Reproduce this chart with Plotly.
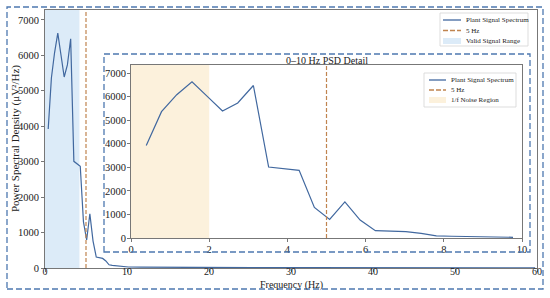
import plotly.graph_objects as go

# ---------------- data ----------------
freq_hz = [0.39, 0.78, 1.17, 1.56, 1.95, 2.34, 2.73, 3.13, 3.52, 3.91, 4.30, 4.69,
           5.08, 5.47, 5.86, 6.25, 6.64, 7.03, 7.42, 7.81, 8.20, 8.59, 8.98, 9.38,
           9.77, 10.16, 11.72, 13.67, 15.63, 19.53, 25.39, 31.25, 39.06, 46.88,
           54.69, 59.77]
psd_uv2_hz = [3920, 5360, 6080, 6630, 6010, 5390, 5730, 6470, 3010, 2940, 2870, 1300,
              790, 1530, 760, 310, 290, 270, 200, 90, 75, 65, 50, 40,
              30, 28, 22, 18, 15, 12, 10, 8, 6, 5,
              4, 3]
marker_freq = 5
valid_range = [0, 4.2]
noise_range = [0, 2]
main_x_ticks = [0, 10, 20, 30, 40, 50, 60]
inset_x_ticks = [0, 2, 4, 6, 8, 10]
y_ticks = [0, 1000, 2000, 3000, 4000, 5000, 6000, 7000]
inset_limit = 10

# ---------------- style ----------------
FONT = "Liberation Serif"
LINE_C = "#41689f"
MARK_C = "#c0844f"
VALID_C = "#dcebf8"
NOISE_C = "#fcf1dc"
BOX_C = "#4d78b0"
AX_C = "#777777"
TXT_C = "#222222"

W, H = 550, 298
L, R, T, B = 45, 13, 10, 30
PW, PH = W - L - R, H - T - B


def px(p):
    return (p - L) / PW


def py(p):
    return (H - B - p) / PH


inset_f = [f for f in freq_hz if f <= inset_limit]
inset_p = psd_uv2_hz[:len(inset_f)]

fig = go.Figure()
fig.add_trace(go.Scatter(x=freq_hz, y=psd_uv2_hz, mode="lines",
                         line=dict(color=LINE_C, width=1.2),
                         name="Plant Signal Spectrum", showlegend=False,
                         xaxis="x", yaxis="y"))
fig.add_trace(go.Scatter(x=inset_f, y=inset_p, mode="lines",
                         line=dict(color=LINE_C, width=1.2),
                         name="Plant Signal Spectrum", showlegend=False,
                         xaxis="x2", yaxis="y2"))

shapes = []
# shaded regions and marker lines (data coordinates)
shapes.append(dict(type="rect", xref="x", yref="y domain", x0=valid_range[0], x1=valid_range[1],
                   y0=0, y1=1, fillcolor=VALID_C, line=dict(width=0), layer="below"))
shapes.append(dict(type="line", xref="x", yref="y domain", x0=marker_freq, x1=marker_freq,
                   y0=0, y1=1, line=dict(color=MARK_C, width=1.2, dash="4px,2px")))
shapes.append(dict(type="rect", xref="x2", yref="y2 domain", x0=noise_range[0], x1=noise_range[1],
                   y0=0, y1=1, fillcolor=NOISE_C, line=dict(width=0), layer="below"))
shapes.append(dict(type="line", xref="x2", yref="y2 domain", x0=marker_freq, x1=marker_freq,
                   y0=0, y1=1, line=dict(color=MARK_C, width=1.2, dash="4px,2px")))

# dashed frames
shapes.append(dict(type="rect", xref="paper", yref="paper", x0=px(7), x1=px(543), y0=py(289), y1=py(7),
                   line=dict(color=BOX_C, width=1.3, dash="6px,3px"), layer="above"))
shapes.append(dict(type="rect", xref="paper", yref="paper", x0=px(104), x1=px(530), y0=py(252), y1=py(54),
                   line=dict(color=BOX_C, width=1.3, dash="6px,3px"), layer="above"))

annotations = []


def legend_box(x0, y0, x1, y1, rows, sym_x0, sym_x1, text_x):
    shapes.append(dict(type="rect", xref="paper", yref="paper", x0=px(x0), x1=px(x1),
                       y0=py(y1), y1=py(y0), fillcolor="rgba(255,255,255,0.9)",
                       line=dict(color="#d4d4d4", width=0.8), layer="above"))
    for ry, kind, color, label in rows:
        if kind == "line":
            shapes.append(dict(type="line", xref="paper", yref="paper", x0=px(sym_x0), x1=px(sym_x1),
                               y0=py(ry), y1=py(ry), line=dict(color=color, width=1.3), layer="above"))
        elif kind == "dash":
            shapes.append(dict(type="line", xref="paper", yref="paper", x0=px(sym_x0), x1=px(sym_x1),
                               y0=py(ry), y1=py(ry), line=dict(color=color, width=1.3, dash="5px,2px"),
                               layer="above"))
        else:
            shapes.append(dict(type="rect", xref="paper", yref="paper", x0=px(sym_x0), x1=px(sym_x1),
                               y0=py(ry + 3), y1=py(ry - 3), fillcolor=color, line=dict(width=0),
                               layer="above"))
        annotations.append(dict(text=label, xref="paper", yref="paper", x=px(text_x), y=py(ry),
                                xanchor="left", yanchor="middle", showarrow=False,
                                font=dict(family=FONT, size=7, color=TXT_C)))


legend_box(440, 13, 528, 46,
           [(20, "line", LINE_C, "Plant Signal Spectrum"),
            (30.5, "dash", MARK_C, "5 Hz"),
            (41, "fill", VALID_C, "Valid Signal Range")],
           443, 461, 464)
legend_box(424, 73, 516, 107,
           [(80, "line", LINE_C, "Plant Signal Spectrum"),
            (90, "dash", MARK_C, "5 Hz"),
            (100, "fill", NOISE_C, "1/f Noise Region")],
           429, 446, 449)

annotations.append(dict(text="0–10 Hz PSD Detail", xref="paper", yref="paper",
                        x=px(327), y=py(60), xanchor="center", yanchor="middle", showarrow=False,
                        font=dict(family=FONT, size=10, color=TXT_C)))
# axis titles
annotations.append(dict(text="Frequency (Hz)", xref="paper", yref="paper",
                        x=0.5, y=py(285), xanchor="center", yanchor="middle", showarrow=False,
                        font=dict(family=FONT, size=10, color=TXT_C)))
annotations.append(dict(text="Power Spectral Density (μV²/Hz)", xref="paper", yref="paper",
                        x=px(15), y=0.5, xanchor="center", yanchor="middle", showarrow=False,
                        textangle=-90, font=dict(family=FONT, size=11, color=TXT_C)))

axis_common = dict(showline=True, linecolor=AX_C, linewidth=1, mirror=True, ticks="outside",
                   ticklen=3, tickcolor=AX_C, showgrid=False, zeroline=False, automargin=False,
                   tickfont=dict(family=FONT, size=10.5, color=TXT_C))

fig.update_layout(
    width=W, height=H, margin=dict(l=L, r=R, t=T, b=B),
    paper_bgcolor="white", plot_bgcolor="rgba(0,0,0,0)",
    showlegend=False,
    font=dict(family=FONT, color=TXT_C),
    xaxis=dict(range=[0, 60], tickvals=main_x_ticks, domain=[0, 1], anchor="y", ticklabelstandoff=-9,
               **{**axis_common, "tickfont": dict(family=FONT, size=10, color=TXT_C)}),
    yaxis=dict(range=[0, 7280], tickvals=y_ticks, tickformat="d", domain=[0, 1], anchor="x",
               **axis_common),
    xaxis2=dict(range=[0, inset_limit], tickvals=inset_x_ticks, domain=[px(131), px(522)], anchor="y2",
                ticklabelstandoff=-2, **axis_common),
    yaxis2=dict(range=[0, 7340], tickvals=y_ticks, tickformat="d", domain=[py(238), py(65)], anchor="x2",
                ticklabelstandoff=-1, **axis_common),
    shapes=shapes, annotations=annotations,
)

fig.write_html("out.html", post_script="document.body.style.margin='0';",
               config={"displayModeBar": False})
